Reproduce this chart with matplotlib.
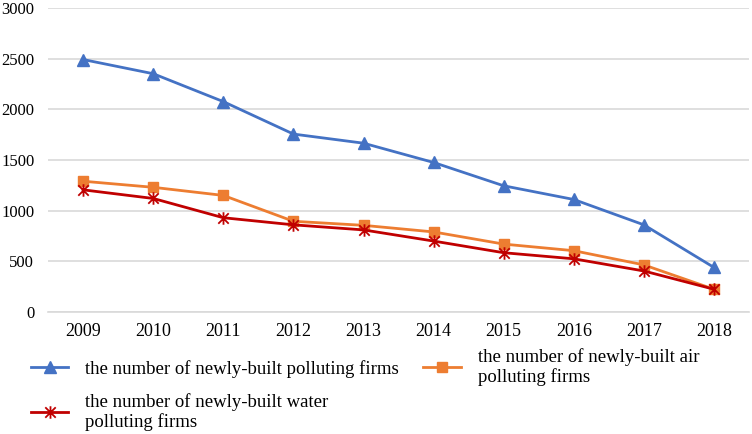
import numpy as np
import matplotlib
matplotlib.use("Agg")
from matplotlib import pyplot as plt
from matplotlib.path import Path

years = ["2009", "2010", "2011", "2012", "2013", "2014", "2015", "2016", "2017", "2018"]
polluting = [2490, 2350, 2075, 1755, 1665, 1475, 1245, 1110, 860, 440]
air_polluting = [1290, 1230, 1150, 895, 855, 790, 670, 605, 465, 225]
water_polluting = [1205, 1120, 930, 860, 810, 700, 585, 525, 405, 225]

plt.rcParams['font.family'] = ['Liberation Serif', 'DejaVu Serif']

# excel style star: x with a vertical bar
star = Path([(-1, -1), (1, 1), (-1, 1), (1, -1), (0, -1.2), (0, 1.2)],
            [Path.MOVETO, Path.LINETO, Path.MOVETO, Path.LINETO, Path.MOVETO, Path.LINETO])

fig = plt.figure(figsize=(7.52, 4.34), dpi=100)
ax = fig.add_axes([0.064, 0.281, 0.932, 0.701])

x = np.arange(len(years))
l1, = ax.plot(x, polluting, color="#4472C4", lw=2, marker="^", ms=8.5,
              label="the number of newly-built polluting firms")
l2, = ax.plot(x, air_polluting, color="#ED7D31", lw=2, marker="s", ms=7.5,
              label="the number of newly-built air\npolluting firms")
l3, = ax.plot(x, water_polluting, color="#C00000", lw=2, marker=star, ms=9, mew=1.3,
              label="the number of newly-built water\npolluting firms")

ax.set_xlim(-0.5, len(years) - 0.5)
ax.set_ylim(0, 3000)
ax.set_yticks(range(0, 3001, 500))
ax.set_xticks(x)
ax.set_xticklabels(years)
ax.grid(axis="y", color="#d9d9d9", lw=1.2)
ax.set_axisbelow(True)
for s in ["top", "right", "left"]:
    ax.spines[s].set_visible(False)
ax.spines["bottom"].set_color("#d9d9d9")
ax.spines["bottom"].set_linewidth(1.2)
ax.tick_params(length=0)
ax.tick_params(axis="y", labelsize=12, pad=10)
ax.tick_params(axis="x", labelsize=13, pad=8)

leg = fig.legend([l1, l3, l2], [l1.get_label(), l3.get_label(), l2.get_label()],
                 ncol=2, loc="upper left", bbox_to_anchor=(0.041, 0.197),
                 frameon=False, fontsize=13.5, handlelength=2.0, handletextpad=0.9,
                 columnspacing=1.3, labelspacing=0.8, borderpad=0, borderaxespad=0)
for t in leg.get_texts():
    t.set_linespacing(1.15)

fig.savefig("out.png", dpi=100)
